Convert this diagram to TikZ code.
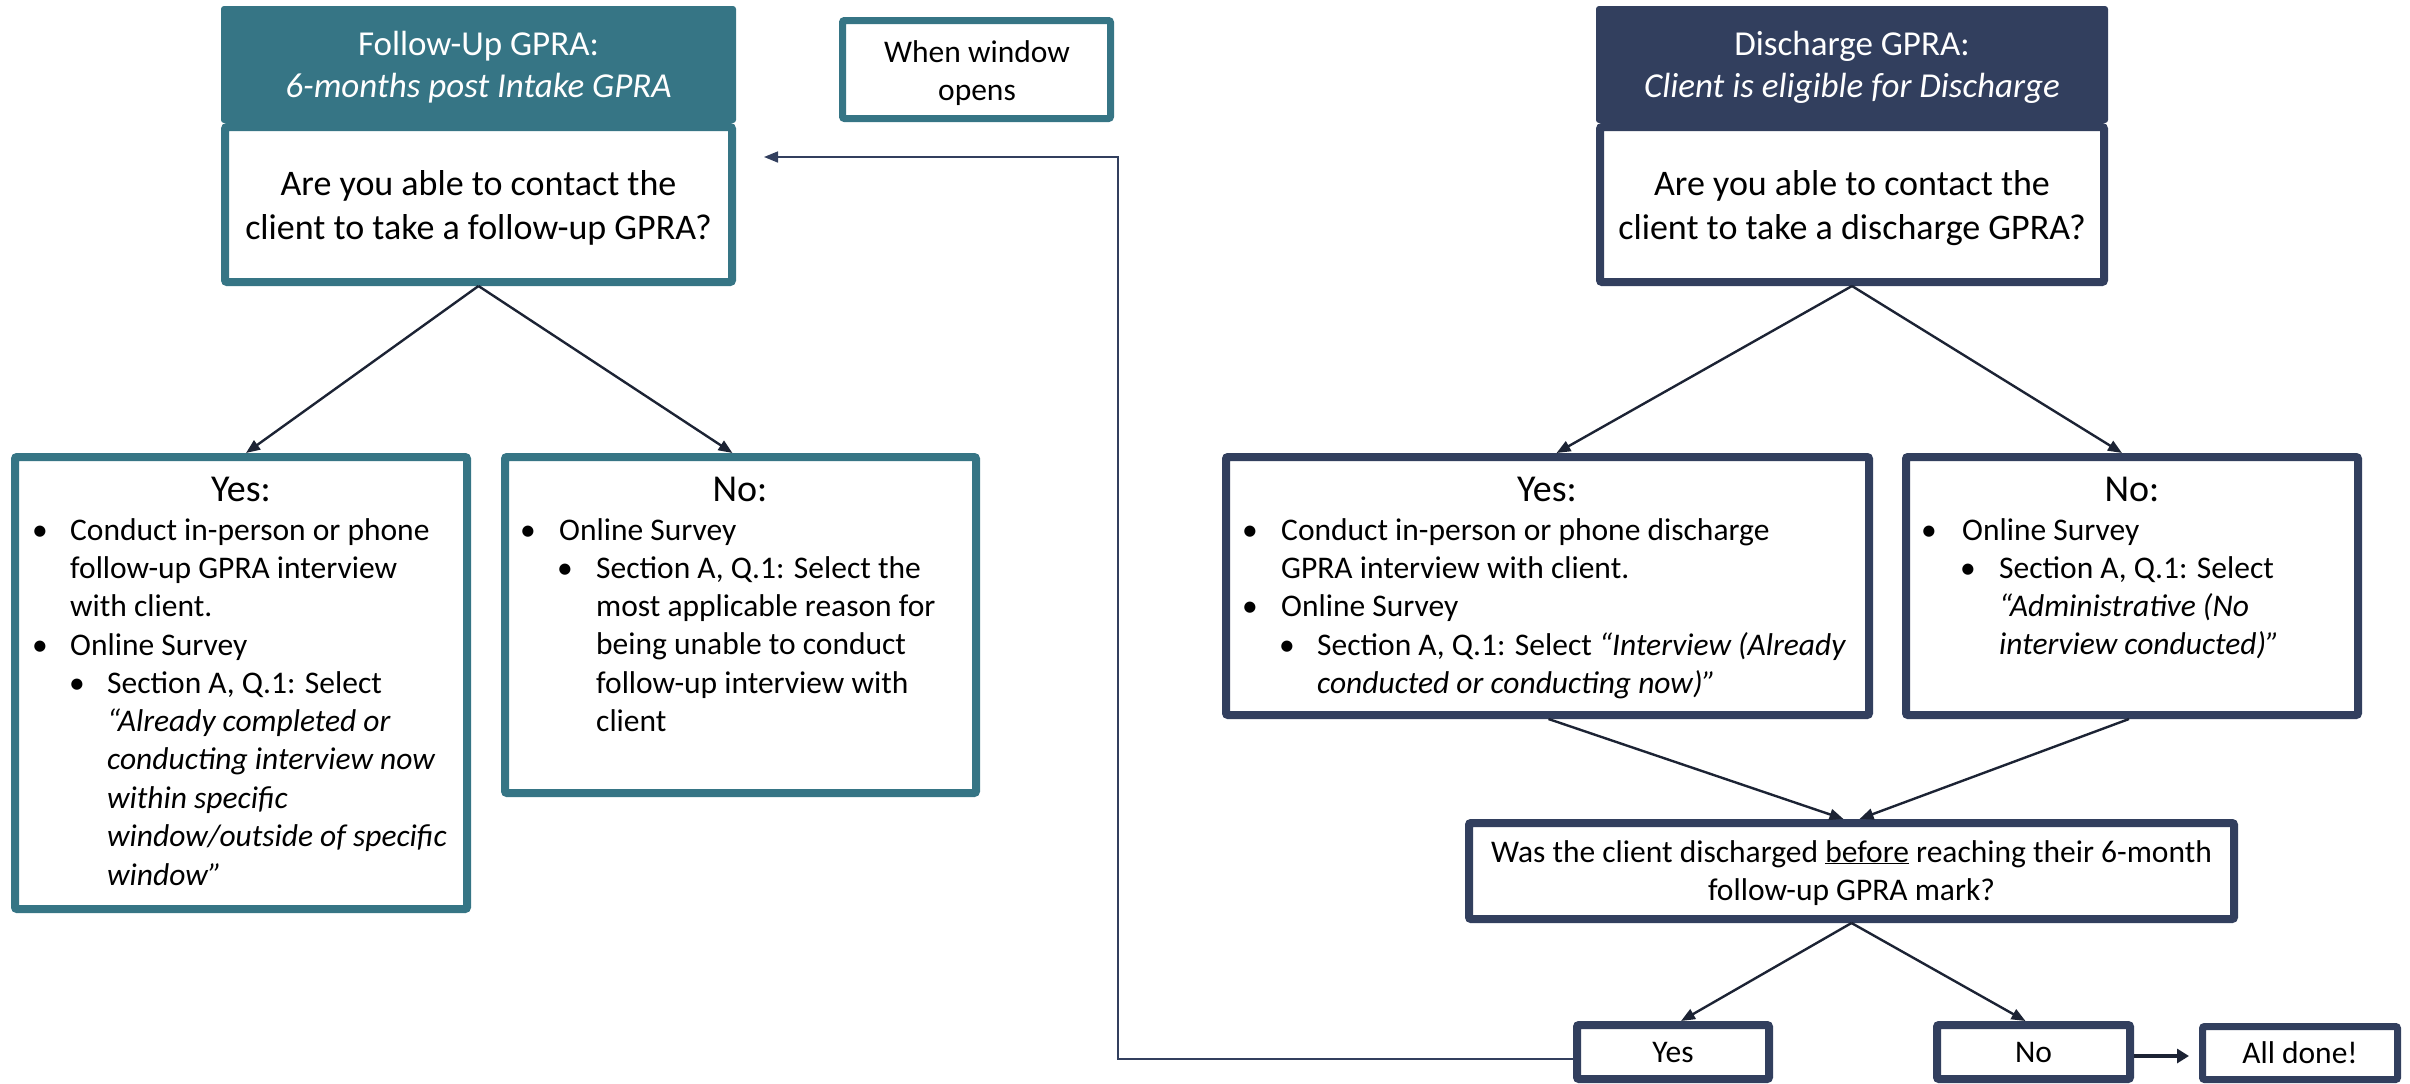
\documentclass[tikz,border=0pt]{standalone}
\usepackage{fontspec}
\setmainfont{Carlito}
\usetikzlibrary{arrows.meta,calc}

\definecolor{fuTeal}{RGB}{54,117,133}
\definecolor{dcNavy}{RGB}{50,63,94}
\definecolor{arrowInk}{RGB}{28,35,52}

% font sizes (1pt = 1 unit of the drawing grid)
\newcommand\bodyfont{\fontsize{31.5pt}{38.4pt}\selectfont}
\newcommand\askfont{\fontsize{36pt}{44pt}\selectfont}
\newcommand\answerfont{\fontsize{38pt}{44pt}\selectfont}
\newcommand\headfont{\fontsize{35pt}{43pt}\selectfont}

% stacked lines; the baseline of the stack is that of its first line
\newcommand\lstack[1]{\vtop{\let\\\cr\halign{##\hfil\cr#1\crcr}}}
\newcommand\cstack[1]{\vtop{\let\\\cr\halign{\hfil##\hfil\cr#1\crcr}}}

\begin{document}
\begin{tikzpicture}[x=1pt,y=-1pt,
  tealbox/.style={draw=fuTeal, line width=8pt, fill=white, inner sep=0pt, rounded corners=2pt},
  navybox/.style={draw=dcNavy, line width=8pt, fill=white, inner sep=0pt, rounded corners=2pt},
  tealhead/.style={fill=fuTeal, inner sep=0pt, rounded corners=3pt},
  navyhead/.style={fill=dcNavy, inner sep=0pt, rounded corners=3pt},
  txt/.style={inner sep=0pt, anchor=base, font=\bodyfont, text=black},
  ltxt/.style={txt, anchor=base west},
  dot/.style={txt},
  arr/.style={draw=arrowInk, line width=2.4pt, -{Triangle[length=14pt,width=11pt]}},
  arrthick/.style={draw=arrowInk, line width=4pt, -{Triangle[length=12pt,width=14pt]}},
  loopline/.style={draw=dcNavy, line width=1.6pt, -{Triangle[length=14pt,width=11pt]}}
]
\useasboundingbox (0,0) rectangle (2410,1084);

% ---------- follow-up branch ----------
\node[tealhead, minimum width=515pt, minimum height=117pt] (fhead) at (478.5,64.5) {};
\node[tealbox, minimum width=507pt, minimum height=155pt] (fq) at (478.5,204.5) {};
\node[txt, font=\headfont, text=white] (fhead-t) at (478.5,55)
  {\cstack{Follow-Up GPRA:\\\textit{6-months post Intake GPRA}}};
\node[txt, font=\askfont] (fq-t) at (478.5,195)
  {\cstack{Are you able to contact the\\client to take a follow-up GPRA?}};

\node[tealbox, line width=7pt, minimum width=268pt, minimum height=98pt] (win) at (976.5,69.5) {};
\node[txt] (win-t) at (977,62) {\cstack{When window\\opens}};

\node[tealbox, minimum width=452pt, minimum height=452pt] (fyes) at (241,683) {};
\node[txt, font=\answerfont] (fyes-h) at (241,501) {Yes:};
\node[dot] (fyes-d1) at (40,540) {•};
\node[ltxt] (fyes-l1) at (70,540)
  {\lstack{Conduct in-person or phone\\follow-up GPRA interview\\with client.}};
\node[dot] (fyes-d2) at (40,655) {•};
\node[ltxt] (fyes-l2) at (70,655) {Online Survey};
\node[dot] (fyes-d3) at (77,693) {•};
\node[ltxt] (fyes-l3) at (107,693)
  {\lstack{Section A, Q.1: Select\\\textit{“Already completed or}\\\textit{conducting interview now}\\\textit{within specific}\\\textit{window/outside of specific}\\\textit{window”}}};

\node[tealbox, minimum width=471pt, minimum height=336pt] (fno) at (740.5,625) {};
\node[txt, font=\answerfont] (fno-h) at (740,501) {No:};
\node[dot] (fno-d1) at (528,540) {•};
\node[ltxt] (fno-l1) at (559,540) {Online Survey};
\node[dot] (fno-d2) at (565,578) {•};
\node[ltxt] (fno-l2) at (596,578)
  {\lstack{Section A, Q.1: Select the\\most applicable reason for\\being unable to conduct\\follow-up interview with\\client}};

% ---------- discharge branch ----------
\node[navyhead, minimum width=512pt, minimum height=117pt] (dhead) at (1852,64.5) {};
\node[navybox, minimum width=504pt, minimum height=155pt] (dq) at (1852,204.5) {};
\node[txt, font=\headfont, text=white] (dhead-t) at (1852,55)
  {\cstack{Discharge GPRA:\\\textit{Client is eligible for Discharge}}};
\node[txt, font=\askfont] (dq-t) at (1852,195)
  {\cstack{Are you able to contact the\\client to take a discharge GPRA?}};

\node[navybox, minimum width=643pt, minimum height=258pt] (dyes) at (1547.5,586) {};
\node[txt, font=\answerfont] (dyes-h) at (1547,501) {Yes:};
\node[dot] (dyes-d1) at (1250,540) {•};
\node[ltxt] (dyes-l1) at (1281,540)
  {\lstack{Conduct in-person or phone discharge\\GPRA interview with client.}};
\node[dot] (dyes-d2) at (1250,616) {•};
\node[ltxt] (dyes-l2) at (1281,616) {Online Survey};
\node[dot] (dyes-d3) at (1287,655) {•};
\node[ltxt] (dyes-l3) at (1317,655)
  {\lstack{Section A, Q.1: Select \textit{“Interview (Already}\\\textit{conducted or conducting now)”}}};

\node[navybox, minimum width=452pt, minimum height=258pt] (dno) at (2132,586) {};
\node[txt, font=\answerfont] (dno-h) at (2132,501) {No:};
\node[dot] (dno-d1) at (1929,540) {•};
\node[ltxt] (dno-l1) at (1962,540) {Online Survey};
\node[dot] (dno-d2) at (1968,578) {•};
\node[ltxt] (dno-l2) at (1999,578)
  {\lstack{Section A, Q.1: Select\\\textit{“Administrative (No}\\\textit{interview conducted)”}}};

\node[navybox, minimum width=765pt, minimum height=96pt] (q2) at (1851.5,871) {};
\node[txt] (q2-t) at (1851.5,862)
  {\cstack{Was the client discharged \underline{before} reaching their 6-month\\follow-up GPRA mark?}};

\node[navybox, minimum width=192pt, minimum height=54pt, font=\bodyfont] (sy) at (1673,1052) {Yes};
\node[navybox, minimum width=193pt, minimum height=54pt, font=\bodyfont] (sn) at (2033.5,1052) {No};
\node[navybox, line width=7pt, minimum width=195pt, minimum height=53pt, font=\bodyfont] (ad) at (2300,1053) {All done!};

% ---------- connectors ----------
\draw[arr] (fq.south) -- ($(fyes.north)+(5,0)$);
\draw[arr] (fq.south) -- ($(fno.north)+(-8,0)$);
\draw[arr] (dq.south) -- ($(dyes.north)+(9,0)$);
\draw[arr] (dq.south) -- ($(dno.north)+(-10,0)$);
\draw[arr] ($(dyes.south)+(1,0)$) -- ($(q2.north)+(-8,0)$);
\draw[arr] ($(dno.south)+(-3,0)$) -- ($(q2.north)+(8,0)$);
\draw[arr] (q2.south) -- ($(sy.north)+(8,0)$);
\draw[arr] (q2.south) -- ($(sn.north)+(-8,0)$);
\draw[arrthick] ($(sn.east)+(0,4)$) -- ($(ad.west)+(-10,3)$);

\coordinate (loopturn) at (1118,157);
\coordinate (loopend) at (764,157);
\draw[loopline] ($(sy.west)+(0,7)$) -| (loopturn) -- (loopend);
\end{tikzpicture}
\end{document}
